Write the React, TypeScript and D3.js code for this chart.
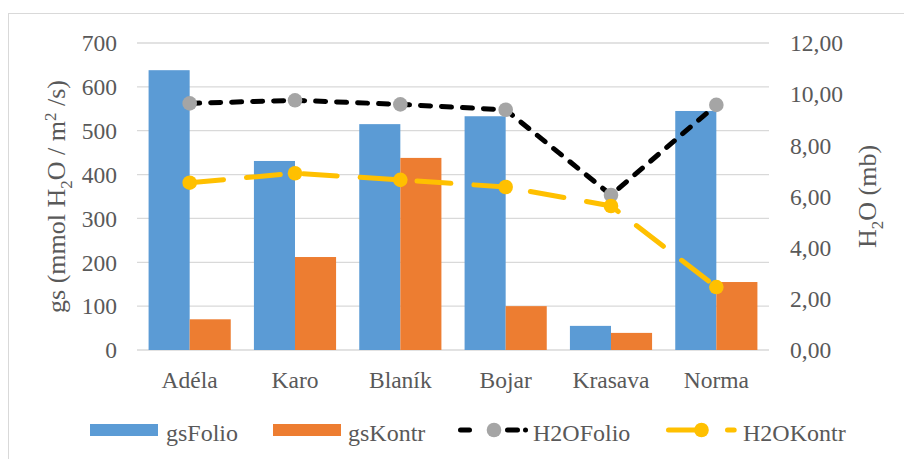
import React from "react";
import * as d3 from "d3";

const categories = ["Adéla", "Karo", "Blaník", "Bojar", "Krasava", "Norma"];
const gsFolio = [638, 431, 515, 533, 55, 545];
const gsKontr = [70, 212, 438, 100, 39, 155];
const h2oFolio = [9.64, 9.76, 9.6, 9.39, 6.06, 9.58];
const h2oKontr = [6.54, 6.91, 6.65, 6.37, 5.63, 2.46];
const leftTicks = [0, 100, 200, 300, 400, 500, 600, 700];
const rightTicks = [0, 2, 4, 6, 8, 10, 12];

const W = 904, H = 459;
const m = { left: 137, right: 769, top: 43, bottom: 350 };
const font = "Liberation Serif";
const textColor = "#595959";
const ts = { fontFamily: font };

export default function App() {
  const x = d3.scaleBand<string>().domain(categories).range([m.left, m.right]).paddingInner(0.22).paddingOuter(0.11);
  const yL = d3.scaleLinear().domain([0, 700]).range([m.bottom, m.top]);
  const yR = d3.scaleLinear().domain([0, 12]).range([m.bottom, m.top]);
  const bw = x.bandwidth() / 2;
  const cx = (c: string) => (x(c) as number) + x.bandwidth() / 2;
  const line = d3.line<[number, number]>().x(d => d[0]).y(d => d[1]);
  const folioPts: [number, number][] = categories.map((c, i) => [cx(c), yR(h2oFolio[i])]);
  const kontrPts: [number, number][] = categories.map((c, i) => [cx(c), yR(h2oKontr[i])]);
  const fmt = (v: number) => v.toFixed(2).replace(".", ",");

  return (
    <svg width={W} height={H} style={{ position: "absolute", left: 0, top: 0 }}>
      <rect x={0} y={0} width={W} height={H} fill="#fff" />
      <rect x={8.5} y={13.5} width={1000} height={1000} fill="#fff" stroke="#d9d9d9" strokeWidth={1} />
      {leftTicks.map(t => (
        <line key={t} x1={m.left} x2={m.right} y1={yL(t)} y2={yL(t)} stroke="#d9d9d9" strokeWidth={1.3} />
      ))}
      {leftTicks.map(t => (
        <text key={"l" + t} x={117} y={yL(t)} dy="0.35em" textAnchor="end" fontSize={23.5} fill={textColor} style={ts}>{t}</text>
      ))}
      {rightTicks.map(t => (
        <text key={"r" + t} x={790} y={yR(t)} dy="0.35em" textAnchor="start" fontSize={23.5} fill={textColor} style={ts}>{fmt(t)}</text>
      ))}
      {categories.map((c, i) => (
        <g key={c}>
          <rect x={x(c)} y={yL(gsFolio[i])} width={bw} height={yL(0) - yL(gsFolio[i])} fill="#5b9bd5" />
          <rect x={(x(c) as number) + bw} y={yL(gsKontr[i])} width={bw} height={yL(0) - yL(gsKontr[i])} fill="#ed7d31" />
          <text x={cx(c)} y={388} textAnchor="middle" fontSize={23.5} fill={textColor} style={ts}>{c}</text>
        </g>
      ))}
      <path d={line(folioPts) || ""} fill="none" stroke="#000" strokeWidth={5} strokeDasharray="10,11" strokeLinecap="round" />
      {folioPts.map((p, i) => <circle key={"f" + i} cx={p[0]} cy={p[1]} r={7.3} fill="#a5a5a5" />)}
      <path d={line(kontrPts) || ""} fill="none" stroke="#ffc000" strokeWidth={5} strokeDasharray="34,23" strokeLinecap="round" />
      {kontrPts.map((p, i) => <circle key={"k" + i} cx={p[0]} cy={p[1]} r={7.3} fill="#ffc000" />)}
      <text transform={`translate(65,196.5) rotate(-90)`} textAnchor="middle" fontSize={26} fill={textColor} style={ts}>
        gs (mmol H<tspan dy="7" fontSize={17}>2</tspan><tspan dy="-7">O / m</tspan><tspan dy="-9" fontSize={17}>2</tspan><tspan dy="9"> /s)</tspan>
      </text>
      <text transform={`translate(876,196.5) rotate(-90)`} textAnchor="middle" fontSize={26} fill={textColor} style={ts}>
        H<tspan dy="7" fontSize={17}>2</tspan><tspan dy="-7">O (mb)</tspan>
      </text>
      {/* legend */}
      <g fontSize={24} fill={textColor} style={ts}>
        <rect x={90} y={424} width={68} height={12} fill="#5b9bd5" />
        <text x={166} y={441} style={ts}>gsFolio</text>
        <rect x={273} y={424} width={68} height={12} fill="#ed7d31" />
        <text x={348} y={441} style={ts}>gsKontr</text>
        <line x1={460.5} x2={526} y1={430} y2={430} stroke="#000" strokeWidth={5} strokeDasharray="9,38,10,8,0.01,100" strokeLinecap="round" />
        <circle cx={494} cy={430} r={7.3} fill="#a5a5a5" />
        <text x={533} y={441} style={ts}>H2OFolio</text>
        <line x1={668.5} x2={735} y1={430} y2={430} stroke="#ffc000" strokeWidth={5} strokeDasharray="33,26,6.7,100" strokeLinecap="round" />
        <circle cx={701.5} cy={430} r={7.3} fill="#ffc000" />
        <text x={743} y={441} style={ts}>H2OKontr</text>
      </g>
    </svg>
  );
}
